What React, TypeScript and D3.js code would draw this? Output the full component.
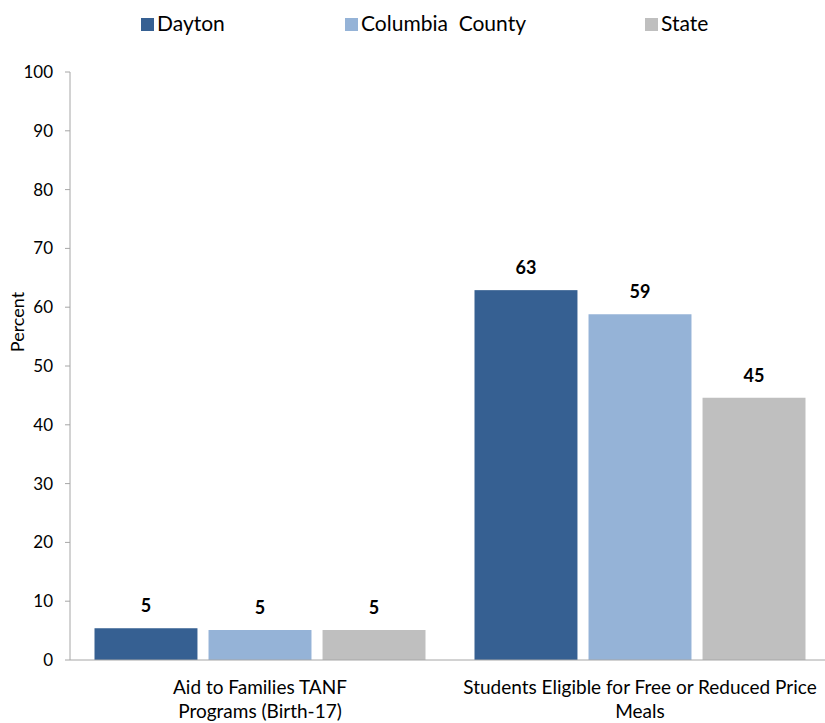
import React from "react";
import * as d3 from "d3";

const categories = [
  ["Aid to Families TANF", "Programs (Birth-17)"],
  ["Students Eligible for Free or Reduced Price", "Meals"],
];
const seriesNames = ["Dayton", "Columbia  County", "State"];
const seriesColors = ["#366092", "#95b3d7", "#bfbfbf"];
const dayton = [5.4, 62.9];
const columbia = [5.1, 58.8];
const state = [5.1, 44.6];
const yTicks = [0, 10, 20, 30, 40, 50, 60, 70, 80, 90, 100];

const W = 825;
const H = 723;
const FONT = "Lato, 'Open Sans', sans-serif";

export default function App() {
  const series = [dayton, columbia, state];
  const left = 70;
  const top = 72;
  const bottom = 660;
  const y = d3.scaleLinear().domain([0, 100]).range([bottom, top]);
  const x0 = d3
    .scaleBand<number>()
    .domain(categories.map((_, i) => i))
    .range([left, 830]);
  const x1 = d3
    .scaleBand<number>()
    .domain(seriesNames.map((_, i) => i))
    .range([24.5, x0.bandwidth() - 24.5])
    .paddingInner(0.097);
  const fmt = d3.format(".0f");

  const legendItems = [
    { sx: 141, tx: 157 },
    { sx: 345, tx: 361 },
    { sx: 645, tx: 661 },
  ];

  return (
    <svg width={W} height={H} style={{ position: "absolute", left: 0, top: 0 }} fontFamily={FONT}>
      <rect width={W} height={H} fill="#ffffff" />
      {/* legend */}
      {seriesNames.map((name, i) => (
        <g key={name}>
          <rect x={legendItems[i].sx} y={18} width={13} height={13} fill={seriesColors[i]} />
          <text x={legendItems[i].tx} y={31} fontSize={21} fill="#000" style={{ whiteSpace: "pre" }}>
            {name}
          </text>
        </g>
      ))}
      {/* y axis */}
      <line x1={left} x2={left} y1={top} y2={bottom} stroke="#a6a6a6" />
      {yTicks.map((t) => (
        <g key={t}>
          <line x1={left - 5} x2={left} y1={y(t)} y2={y(t)} stroke="#a6a6a6" />
          <text x={53} y={y(t) + 6} fontSize={17} textAnchor="end" fill="#000">
            {t}
          </text>
        </g>
      ))}
      <text
        transform={`translate(24,322) rotate(-90)`}
        fontSize={18}
        textAnchor="middle"
        fill="#000"
      >
        Percent
      </text>
      {/* bars */}
      {categories.map((_, ci) => (
        <g key={ci} transform={`translate(${x0(ci)},0)`}>
          {series.map((vals, si) => (
            <g key={si}>
              <rect
                x={x1(si)}
                y={y(vals[ci])}
                width={x1.bandwidth()}
                height={bottom - y(vals[ci])}
                fill={seriesColors[si]}
              />
              <text
                x={(x1(si) as number) + x1.bandwidth() / 2}
                y={y(vals[ci]) - 16}
                fontSize={18}
                fontWeight="bold"
                textAnchor="middle"
                fill="#000"
              >
                {fmt(vals[ci])}
              </text>
            </g>
          ))}
        </g>
      ))}
      {/* x axis */}
      <line x1={left} x2={W} y1={bottom} y2={bottom} stroke="#a6a6a6" />
      {categories.map((lines, ci) => (
        <text
          key={ci}
          x={(x0(ci) as number) + x0.bandwidth() / 2}
          y={694}
          fontSize={19}
          textAnchor="middle"
          fill="#000"
        >
          {lines.map((l, li) => (
            <tspan key={li} x={(x0(ci) as number) + x0.bandwidth() / 2} dy={li === 0 ? 0 : 24}>
              {l}
            </tspan>
          ))}
        </text>
      ))}
    </svg>
  );
}
